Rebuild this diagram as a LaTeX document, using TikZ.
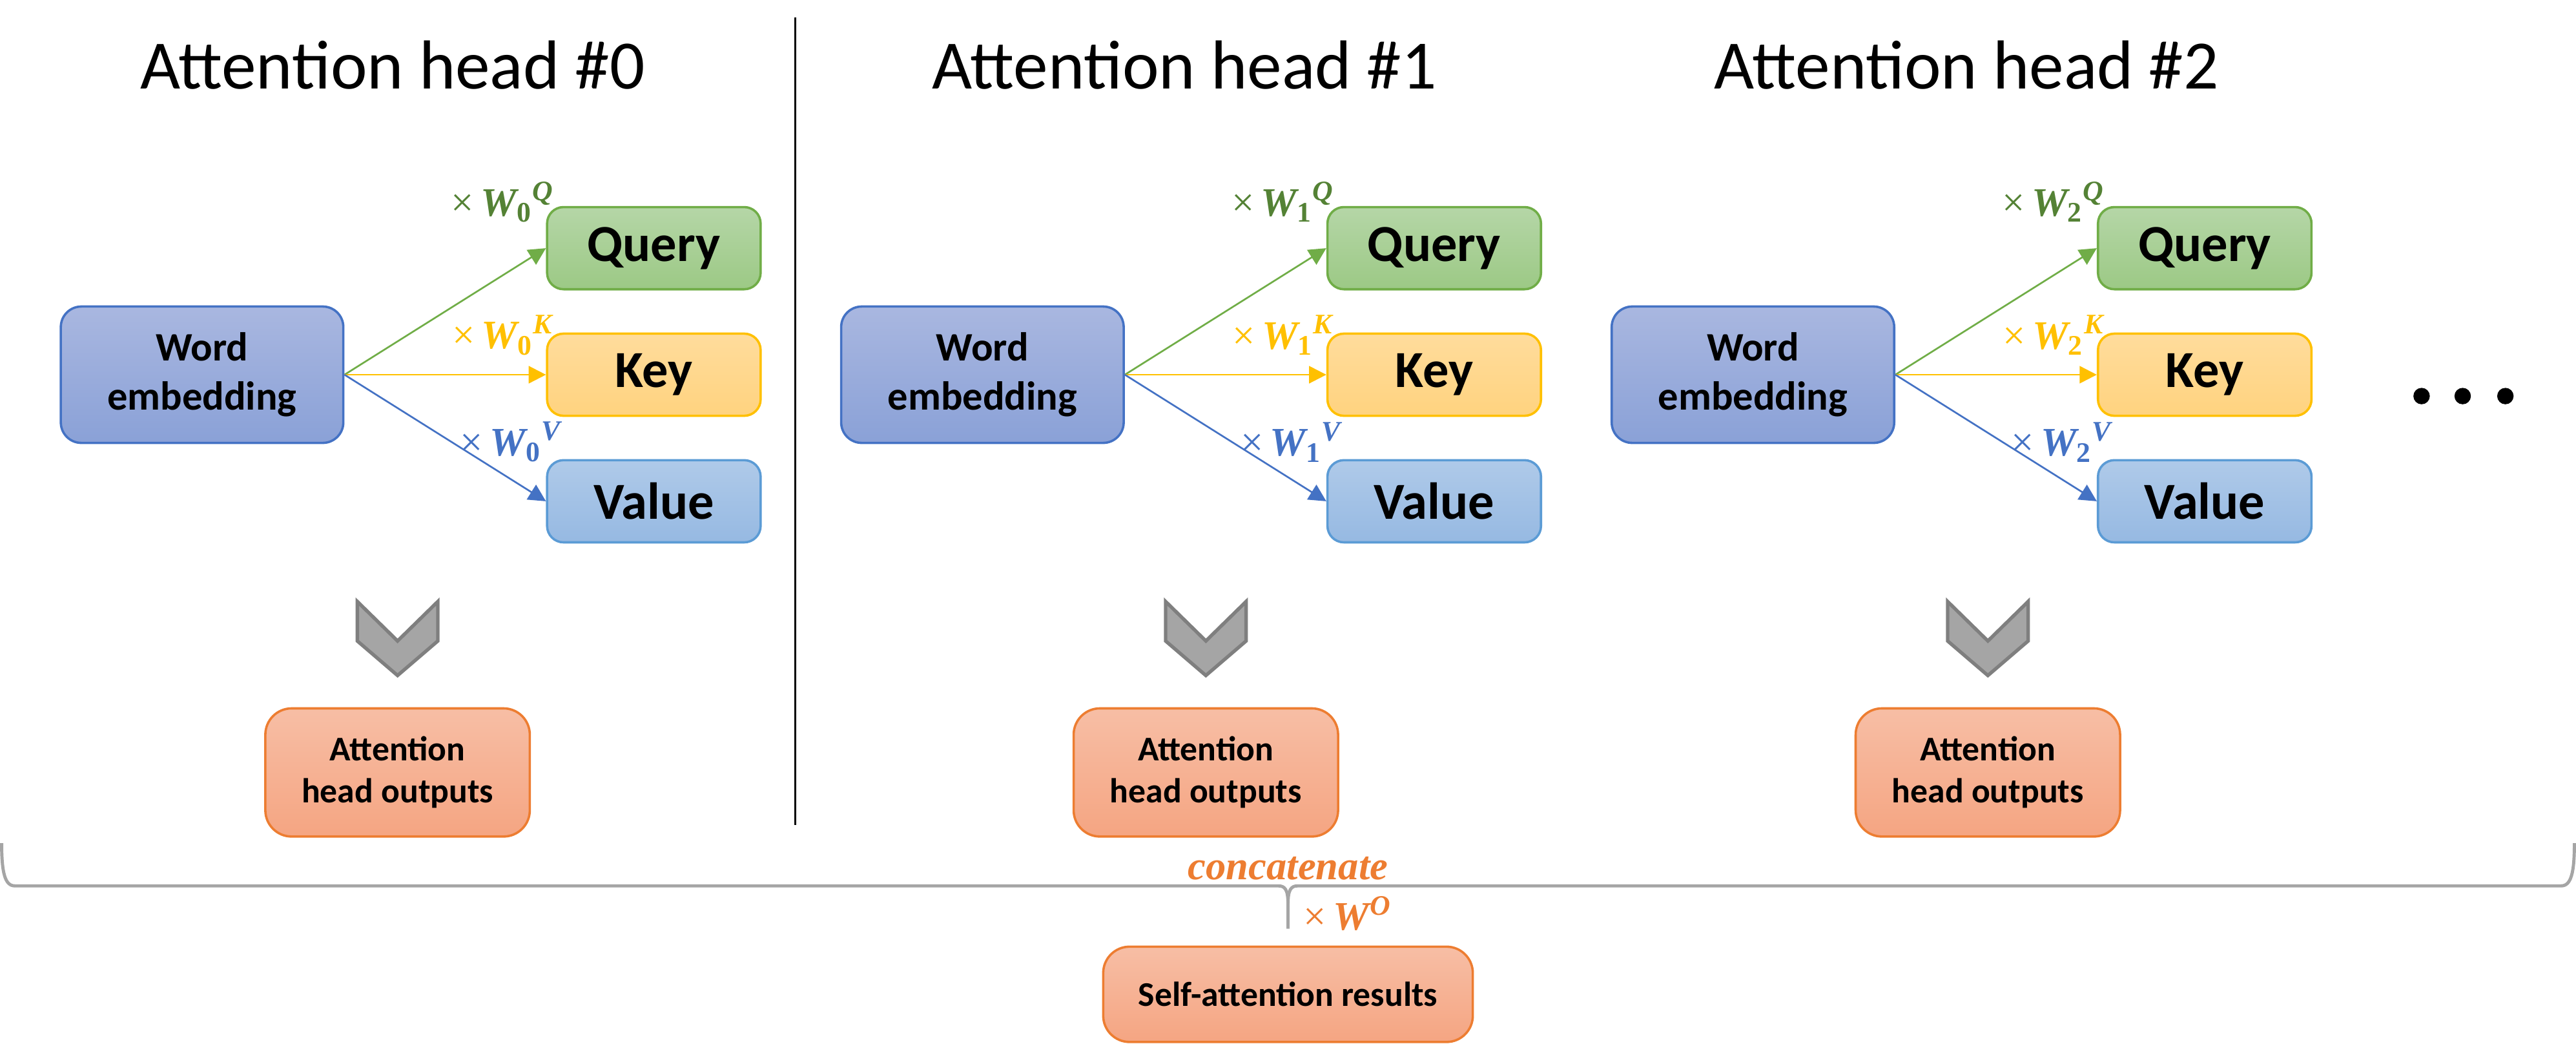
\documentclass[tikz,border=0pt]{standalone}
\usepackage{fontspec}
\setmainfont{Carlito}
\newfontfamily\serifit{Liberation Serif}
\usetikzlibrary{arrows.meta}

\definecolor{qtop}{HTML}{B5D6A7}
\definecolor{qbot}{HTML}{9CC985}
\definecolor{qline}{HTML}{70AD47}
\definecolor{qtext}{HTML}{548235}
\definecolor{ktop}{HTML}{FFDC9C}
\definecolor{kbot}{HTML}{FFD37F}
\definecolor{kline}{HTML}{FFC000}
\definecolor{vtop}{HTML}{AFCAE9}
\definecolor{vbot}{HTML}{96B9E2}
\definecolor{vline}{HTML}{5B9BD5}
\definecolor{vtext}{HTML}{4472C4}
\definecolor{etop}{HTML}{A9B7E0}
\definecolor{ebot}{HTML}{8AA1D7}
\definecolor{eline}{HTML}{4472C4}
\definecolor{otop}{HTML}{F7BEA5}
\definecolor{obot}{HTML}{F5A582}
\definecolor{oline}{HTML}{ED7D31}
\definecolor{chevfill}{HTML}{A5A5A5}
\definecolor{chevline}{HTML}{7F7F7F}

% weight matrix label: x W_sub^sup
\newcommand{\wmat}[2]{{\serifit ×\,\bfseries\itshape W\textsubscript{\upshape #1}\textsuperscript{#2}}}

\begin{document}
\begin{tikzpicture}[x=0.02cm, y=-0.02cm,
        headtitle/.style={anchor=base, font=\fontsize{24}{29}\selectfont},
        box/.style={rounded corners=0.2cm, line width=0.8pt, inner sep=0pt, align=center,
            minimum width=2.6cm, minimum height=1cm, font=\bfseries\fontsize{18}{22}\selectfont},
        querybox/.style={box, draw=qline, top color=qtop, bottom color=qbot},
        keybox/.style={box, draw=kline, top color=ktop, bottom color=kbot},
        valuebox/.style={box, draw=vline, top color=vtop, bottom color=vbot},
        embbox/.style={box, draw=eline, top color=etop, bottom color=ebot, rounded corners=0.25cm,
            minimum width=3.44cm, minimum height=1.66cm, font=\bfseries\fontsize{14}{17}\selectfont},
        outbox/.style={box, draw=oline, top color=otop, bottom color=obot, rounded corners=0.32cm,
            minimum width=3.22cm, minimum height=1.56cm, font=\bfseries\fontsize{12}{14.5}\selectfont},
        wlabel/.style={inner sep=0pt, font=\fontsize{14}{16}\selectfont},
        proj/.style={line width=0.6pt, -{Triangle[length=2.1mm, width=2.1mm]}},
        chev/.style={fill=chevfill, draw=chevline, line width=1.2pt, line join=miter},
        bracestyle/.style={draw=chevfill, line width=1.1pt}
    ]
        \useasboundingbox (0,0) rectangle (1568,635.2);

        % Attention heads
        \foreach \i/\dx/\cx/\tx in {0/0/242/239, 1/475/734/721, 2/944/1210/1197}{
            \node[headtitle] (title\i) at (\tx,54) {Attention head \#\i};
            \node[embbox] (emb\i) at (123+\dx,228) {Word\\embedding};
            \node[querybox] (query\i) at (398+\dx,151) {Query};
            \node[keybox] (key\i) at (398+\dx,228) {Key};
            \node[valuebox] (value\i) at (398+\dx,305) {Value};
            \draw[proj, draw=qline] (emb\i.east) -- (query\i.west);
            \draw[proj, draw=kline] (emb\i.east) -- (key\i.west);
            \draw[proj, draw=vtext] (emb\i.east) -- (value\i.west);
            \node[wlabel, text=qtext] (wq\i) at (306+\dx,123) {\wmat{\i}{Q}};
            \node[wlabel, text=kline] (wk\i) at (306+\dx,204) {\wmat{\i}{K}};
            \node[wlabel, text=vtext] (wv\i) at (311+\dx,269) {\wmat{\i}{V}};
            % chevron and output
            \filldraw[chev] (\cx-24.5,366) -- (\cx,390) -- (\cx+24.5,366) -- (\cx+24.5,390) -- (\cx,411) -- (\cx-24.5,390) -- cycle;
            \node[outbox] (out\i) at (\cx,470) {Attention\\head outputs};
        }

        % Divider
        \draw[line width=0.6pt] (484,10.5) -- (484,502);

        % More heads
        \foreach \x in {1474,1499,1525}
            \fill (\x,241) circle (0.1cm);

        % Brace
        \coordinate (tip) at (784,565);
        \draw[bracestyle] (1,513) .. controls (1,531) and (3,539) .. (9,539) -- (778,539)
            .. controls (782,539) and (784,541) .. (784,550) -- (tip);
        \draw[bracestyle] (tip) -- (784,550) .. controls (784,541) and (786,539) .. (790,539)
            -- (1559,539) .. controls (1565,539) and (1567,531) .. (1567,513);

        \node[wlabel, anchor=base, text=oline] (concat) at (784,535) {\serifit\bfseries\itshape concatenate};
        \node[wlabel, anchor=base west, text=oline] (wo) at (793,566) {\wmat{}{O}};

        % Result
        \node[outbox, minimum width=4.5cm, minimum height=1.16cm] (results) at (784,605) {Self-attention results};
    \end{tikzpicture}
\end{document}
